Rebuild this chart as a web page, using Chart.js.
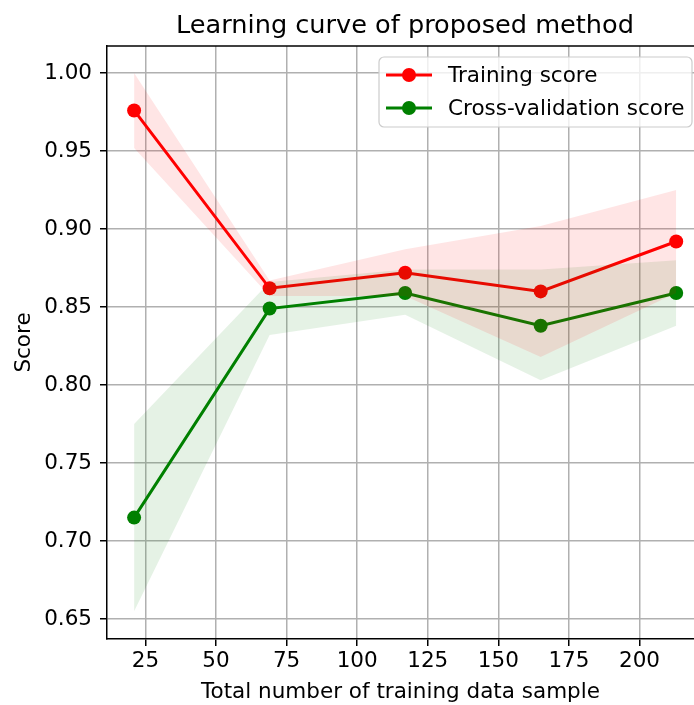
<!DOCTYPE html>
<html>
<head>
<meta charset="utf-8">
<script src="https://cdn.jsdelivr.net/npm/chart.js@4.4.0/dist/chart.umd.min.js"></script>
<style>
    html, body { margin: 0; padding: 0; background: #fff; overflow: hidden; }
    #wrap { width: 694px; height: 705px; }
    canvas { display: block; }
</style>
</head>
<body>
<div id="wrap"><canvas id="curve"></canvas></div>
<script>
// Training sample counts
const sizes = [21, 69, 117, 165, 213];

// Mean scores and spread bands (mean +/- std)
const trainMean = [0.976, 0.862, 0.872, 0.860, 0.892];
const trainUpper = [1.000, 0.867, 0.887, 0.902, 0.925];
const trainLower = [0.952, 0.857, 0.857, 0.818, 0.859];

const cvMean = [0.715, 0.849, 0.859, 0.838, 0.859];
const cvUpper = [0.775, 0.866, 0.874, 0.874, 0.880];
const cvLower = [0.655, 0.832, 0.845, 0.803, 0.838];

const xTicks = [25, 50, 75, 100, 125, 150, 175, 200];
const yTicks = [0.65, 0.70, 0.75, 0.80, 0.85, 0.90, 0.95, 1.00];

const font = 'DejaVu Sans';
const red = '#ff0000';
const green = '#008000';

const pts = (ys) => sizes.map((x, i) => ({ x: x, y: ys[i] }));

// Draws title, top spine and the legend box
const extras = {
    id: 'extras',
    afterDraw(chart) {
        const ctx = chart.ctx;
        const area = chart.chartArea;
        ctx.save();

        ctx.strokeStyle = '#000';
        ctx.lineWidth = 1.5;
        ctx.beginPath();
        ctx.moveTo(area.left, area.top);
        ctx.lineTo(area.right, area.top);
        ctx.stroke();

        ctx.fillStyle = '#000';
        ctx.font = '25.6px "' + font + '"';
        ctx.textAlign = 'center';
        ctx.textBaseline = 'alphabetic';
        ctx.fillText('Learning curve of proposed method', 405, 33);

        // legend
        const bx = 379, by = 57, bw = 313, bh = 70, r = 5;
        ctx.fillStyle = 'rgba(255,255,255,0.8)';
        ctx.strokeStyle = '#cccccc';
        ctx.lineWidth = 1.2;
        ctx.beginPath();
        ctx.roundRect(bx, by, bw, bh, r);
        ctx.fill();
        ctx.stroke();

        const items = [
            { label: 'Training score', color: red, y: 75 },
            { label: 'Cross-validation score', color: green, y: 108 }
        ];
        ctx.font = '21.5px "' + font + '"';
        ctx.textAlign = 'left';
        ctx.textBaseline = 'middle';
        items.forEach(it => {
            ctx.strokeStyle = it.color;
            ctx.lineWidth = 3;
            ctx.beginPath();
            ctx.moveTo(386, it.y);
            ctx.lineTo(432, it.y);
            ctx.stroke();
            ctx.fillStyle = it.color;
            ctx.beginPath();
            ctx.arc(409, it.y, 7, 0, Math.PI * 2);
            ctx.fill();
            ctx.fillStyle = '#000';
            ctx.fillText(it.label, 448, it.y + 1);
        });
        ctx.restore();
    }
};

const band = (data, fill, color) => ({
    data: pts(data),
    fill: fill,
    backgroundColor: color,
    borderWidth: 0,
    pointRadius: 0,
    showLine: true,
    tension: 0
});

const line = (data, color) => ({
    data: pts(data),
    borderColor: color,
    backgroundColor: color,
    borderWidth: 3,
    pointRadius: 7,
    pointBorderWidth: 0,
    showLine: true,
    fill: false,
    tension: 0
});

new Chart(document.getElementById('curve'), {
    type: 'scatter',
    data: {
        datasets: [
            band(trainUpper, false, 'rgba(255,0,0,0.1)'),
            band(trainLower, '-1', 'rgba(255,0,0,0.1)'),
            band(cvUpper, false, 'rgba(0,128,0,0.1)'),
            band(cvLower, '-1', 'rgba(0,128,0,0.1)'),
            line(trainMean, red),
            line(cvMean, green)
        ]
    },
    options: {
        responsive: true,
        maintainAspectRatio: false,
        animation: false,
        layout: { autoPadding: false, padding: { top: 46, right: 0, left: 0, bottom: 0 } },
        plugins: {
            legend: { display: false },
            tooltip: { enabled: false }
        },
        scales: {
            x: {
                type: 'linear',
                min: 11.4,
                max: 219.3,
                afterBuildTicks: s => { s.ticks = xTicks.map(v => ({ value: v })); },
                afterFit: s => { s.height = 66; s.paddingRight = 0; s.paddingLeft = 0; },
                grid: { color: '#b0b0b0', lineWidth: 1.5, tickColor: '#000', tickLength: 7, tickWidth: 1.5 },
                border: { color: '#000', width: 1.5 },
                ticks: { color: '#000', font: { family: font, size: 21.5 }, padding: 3, maxRotation: 0 },
                title: {
                    display: true,
                    text: 'Total number of training data sample',
                    color: '#000',
                    font: { family: font, size: 21.5 },
                    padding: { top: 0, bottom: 0 }
                }
            },
            y: {
                min: 0.6372,
                max: 1.0173,
                afterBuildTicks: s => { s.ticks = yTicks.map(v => ({ value: v })); },
                afterFit: s => { s.width = 107; s.paddingTop = 0; s.paddingBottom = 0; },
                grid: { color: '#b0b0b0', lineWidth: 1.5, tickColor: '#000', tickLength: 7, tickWidth: 1.5 },
                border: { color: '#000', width: 1.5 },
                ticks: {
                    color: '#000',
                    font: { family: font, size: 21.5 },
                    padding: 8,
                    callback: v => v.toFixed(2)
                },
                title: {
                    display: true,
                    text: 'Score',
                    color: '#000',
                    font: { family: font, size: 21.5 },
                    padding: { top: 12, bottom: 0 }
                }
            }
        }
    },
    plugins: [extras]
});
</script>
</body>
</html>
